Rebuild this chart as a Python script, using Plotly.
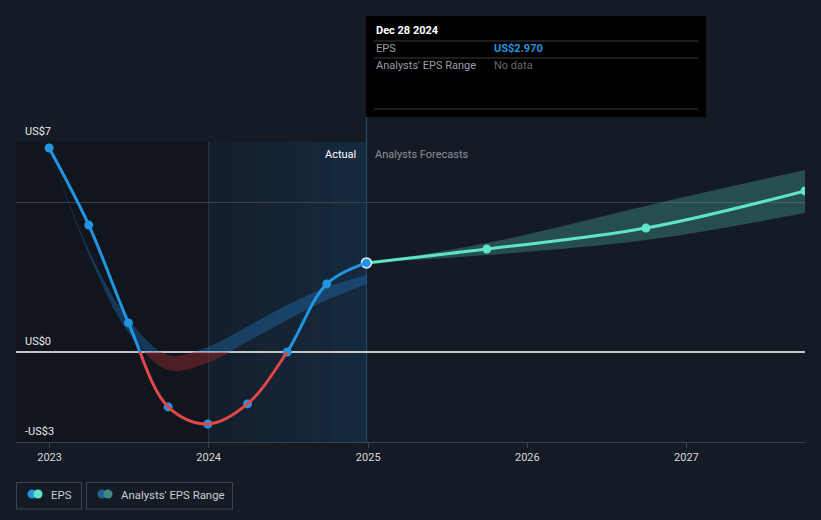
import plotly.graph_objects as go
import pandas as pd

# ---------------- data ----------------
eps_dates = ["2022-12-31", "2023-04-01", "2023-07-01", "2023-09-30", "2023-12-30",
             "2024-03-30", "2024-06-29", "2024-09-28", "2024-12-28"]
eps_values = [6.8, 4.23, 0.97, -1.83, -2.4, -1.73, 0.0, 2.27, 2.97]

range_upper = [6.8, 3.4, 1.1, -0.1, 0.17, 0.85, 1.57, 2.17, 2.57]
range_lower = [6.8, 3.25, 0.65, -0.6, -0.37, 0.35, 1.07, 1.73, 2.27]

fc_dates = ["2024-12-28", "2025-09-30", "2026-09-30", "2027-09-30"]
fc_values = [2.97, 3.43, 4.13, 5.37]
fc_upper = [2.97, 3.63, 4.87, 6.07]
fc_lower = [2.97, 3.23, 3.73, 4.63]

x_tick_vals = ["2023-01-01", "2024-01-01", "2025-01-01", "2026-01-01", "2027-01-01"]
x_tick_text = ["2023", "2024", "2025", "2026", "2027"]
y_tick_vals = [7, 0, -3]
y_tick_text = ["US$7", "US$0", "-US$3"]
grid_vals = [7, 5]

x_range = ["2022-10-16", "2027-09-30"]
y_range = [-3, 7]
past_start = "2024-01-01"
today = "2024-12-28"

tooltip_title = "Dec 28 2024"
tooltip_rows = [("EPS", "US$2.970"), ("Analysts' EPS Range", "No data")]

# ---------------- style ----------------
W, H = 821, 520
ML, MR, MT, MB = 16, 16, 142, 78
PW, PH = W - ML - MR, H - MT - MB
BG = "#151b24"
BLUE = "#2394df"
RED = "#e0474a"
TEAL = "#5fe3c9"
GRID = "#3a3f48"
FONT = "Roboto, sans-serif"

zero_frac = (0 - y_range[0]) / (y_range[1] - y_range[0])


def px(p):
    return (p - ML) / PW


def py(p):
    return (H - MB - p) / PH


def sc(**kw):
    kw.setdefault("hoverinfo", "skip")
    kw.setdefault("showlegend", False)
    kw.setdefault("xaxis", "x")
    return go.Scatter(**kw)


fig = go.Figure()

# positive part (blue) -> y2
fig.add_trace(sc(x=eps_dates, y=range_upper, mode="lines", line=dict(width=0, shape="spline"), yaxis="y2"))
fig.add_trace(sc(x=eps_dates, y=range_lower, mode="lines", line=dict(width=0, shape="spline"),
                 fill="tonexty", fillcolor="rgba(35,130,210,0.32)", yaxis="y2"))
fig.add_trace(sc(x=eps_dates, y=eps_values, mode="lines", line=dict(width=3, color=BLUE, shape="spline"),
                 yaxis="y2"))

# negative part (red) -> y3
fig.add_trace(sc(x=eps_dates, y=range_upper, mode="lines", line=dict(width=0, shape="spline"), yaxis="y3"))
fig.add_trace(sc(x=eps_dates, y=range_lower, mode="lines", line=dict(width=0, shape="spline"),
                 fill="tonexty", fillcolor="rgba(150,40,45,0.45)", yaxis="y3"))
fig.add_trace(sc(x=eps_dates, y=eps_values, mode="lines", line=dict(width=3, color=RED, shape="spline"),
                 yaxis="y3"))

# overlay on full area: zero line, forecast, markers -> y4
fig.add_trace(sc(x=x_range, y=[0, 0], mode="lines", line=dict(width=1.5, color="#ffffff"), yaxis="y4"))
fig.add_trace(sc(x=fc_dates, y=fc_upper, mode="lines", line=dict(width=0, shape="spline"), yaxis="y4"))
fig.add_trace(sc(x=fc_dates, y=fc_lower, mode="lines", line=dict(width=0, shape="spline"),
                 fill="tonexty", fillcolor="rgba(93,224,200,0.26)", yaxis="y4"))
fig.add_trace(sc(x=fc_dates, y=fc_values, mode="lines", line=dict(width=3, color=TEAL, shape="spline"),
                 yaxis="y4"))
fig.add_trace(sc(x=fc_dates[1:], y=fc_values[1:], mode="markers",
                 marker=dict(size=9, color=TEAL, opacity=1, line=dict(width=0)), yaxis="y4"))
fig.add_trace(sc(x=eps_dates[:-1], y=eps_values[:-1], mode="markers",
                 marker=dict(size=9, color=BLUE, opacity=1, line=dict(width=0)), yaxis="y4"))
fig.add_trace(sc(x=eps_dates[-1:], y=eps_values[-1:], mode="markers",
                 marker=dict(size=10, color=BLUE, opacity=1, line=dict(width=1.5, color="#e8eef5")),
                 yaxis="y4"))

shapes = []
# darker area before the past year
shapes.append(dict(type="rect", xref="x", yref="paper", x0=x_range[0], x1=past_start, y0=0, y1=1,
                   fillcolor="rgba(0,0,0,0.16)", line=dict(width=0), layer="below"))
# past-year gradient highlight
nstr = 14
edges = pd.date_range(past_start, today, periods=nstr + 1)
for i in range(nstr):
    a = 0.05 + 0.13 * i / (nstr - 1)
    shapes.append(dict(type="rect", xref="x", yref="paper", x0=edges[i], x1=edges[i + 1], y0=0, y1=1,
                       fillcolor=f"rgba(25,110,185,{a:.3f})", line=dict(width=0), layer="below"))
shapes.append(dict(type="line", xref="x", yref="paper", x0=past_start, x1=past_start, y0=0, y1=1,
                   line=dict(color="rgba(60,100,130,0.45)", width=1), layer="below"))
shapes.append(dict(type="line", xref="x", yref="paper", x0=today, x1=today, y0=0, y1=py(117),
                   line=dict(color="#1f4a6e", width=1.2), layer="below"))

# tooltip box
shapes.append(dict(type="rect", xref="paper", yref="paper", x0=px(366), x1=px(706), y0=py(117), y1=py(16),
                   fillcolor="#000000", line=dict(width=0), layer="above"))
for yy in (41, 58, 109):
    shapes.append(dict(type="line", xref="paper", yref="paper", x0=px(374), x1=px(698), y0=py(yy), y1=py(yy),
                       line=dict(color="#3c3c3c", width=1), layer="above"))

# legend boxes and icons
legend_items = [("EPS", 16, 82, BLUE, TEAL), ("Analysts' EPS Range", 86, 233, "#1f5f93", "#3e8a80")]
annotations = []
for label, x0, x1, c1, c2 in legend_items:
    shapes.append(dict(type="rect", xref="paper", yref="paper", x0=px(x0 + 0.5), x1=px(x1 - 0.5),
                       y0=py(509), y1=py(482.5), line=dict(color="#3e434c", width=1),
                       fillcolor="rgba(0,0,0,0)", layer="above"))
    for cx, col in ((x0 + 16, c1), (x0 + 22, c2)):
        shapes.append(dict(type="circle", xref="paper", yref="paper", x0=px(cx - 4.5), x1=px(cx + 4.5),
                           y0=py(498.5), y1=py(489.5), fillcolor=col, line=dict(width=0), layer="above"))
    annotations.append(dict(text=label, xref="paper", yref="paper", x=px(x0 + 33), y=py(495),
                            xanchor="left", yanchor="middle", showarrow=False,
                            font=dict(size=11.4, color="#c9ccd1", family=FONT)))

# y labels
for v, t in zip(y_tick_vals, y_tick_text):
    annotations.append(dict(text=t, xref="paper", yref="y", x=px(23), y=v, xanchor="left", yanchor="bottom",
                            yshift=2, showarrow=False, font=dict(size=11, color="#e6e8eb", family=FONT)))

# Actual / Forecast labels
annotations.append(dict(text="Actual", xref="x", yref="paper", x=today, y=py(154), xanchor="right",
                        yanchor="middle", xshift=-8, showarrow=False,
                        font=dict(size=11, color="#ffffff", family=FONT)))
annotations.append(dict(text="Analysts Forecasts", xref="x", yref="paper", x=today, y=py(154), xanchor="left",
                        yanchor="middle", xshift=7, showarrow=False,
                        font=dict(size=11, color="#8b9098", family=FONT)))

# tooltip texts
annotations.append(dict(text="<b>" + tooltip_title + "</b>", xref="paper", yref="paper", x=px(374), y=py(31),
                        xanchor="left", yanchor="middle", showarrow=False,
                        font=dict(size=11, color="#ffffff", family=FONT)))
row_y = [49, 66]
for (lab, val), yy in zip(tooltip_rows, row_y):
    annotations.append(dict(text=lab, xref="paper", yref="paper", x=px(374), y=py(yy), xanchor="left",
                            yanchor="middle", showarrow=False, font=dict(size=11, color="#9a9ea5", family=FONT)))
    is_val = val != "No data"
    annotations.append(dict(text=("<b>" + val + "</b>") if is_val else val, xref="paper", yref="paper",
                            x=px(492), y=py(yy), xanchor="left", yanchor="middle", showarrow=False,
                            font=dict(size=11, color=BLUE if is_val else "#63676e", family=FONT)))

fig.update_layout(
    width=W, height=H,
    margin=dict(l=ML, r=MR, t=MT, b=MB),
    paper_bgcolor=BG, plot_bgcolor="rgba(0,0,0,0)",
    font=dict(family=FONT, color="#d6d8dc", size=11),
    showlegend=False, hovermode=False,
    shapes=shapes, annotations=annotations,
    xaxis=dict(type="date", range=x_range, domain=[0, 1], anchor="y",
               tickvals=x_tick_vals, ticktext=x_tick_text,
               showgrid=False, zeroline=False, showline=True, linecolor=GRID, linewidth=1,
               ticks="outside", ticklen=5, tickcolor=GRID, tickwidth=1,
               tickfont=dict(size=11, color="#d6d8dc", family=FONT)),
    yaxis=dict(domain=[0, 1], range=y_range, anchor="x", tickvals=grid_vals, showticklabels=False,
               showgrid=True, gridcolor=GRID, gridwidth=1, ticks="", zeroline=False, showline=False,
               fixedrange=True),
    yaxis2=dict(domain=[zero_frac, 1], range=[0, y_range[1]], visible=False, anchor="x", fixedrange=True),
    yaxis3=dict(domain=[0, zero_frac], range=[y_range[0], 0], visible=False, anchor="x", fixedrange=True),
    yaxis4=dict(range=y_range, overlaying="y", anchor="x", visible=False, fixedrange=True),
)

fig.write_html("out.html", config={"staticPlot": True},
               post_script="document.body.style.margin='0px';document.body.style.overflow='hidden';")
